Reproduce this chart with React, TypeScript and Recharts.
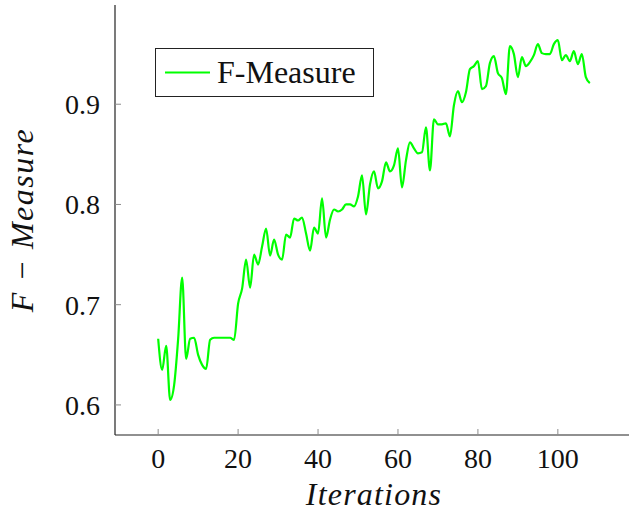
import React from 'react';
import { LineChart, Line, XAxis, YAxis, Legend, Label } from 'recharts';

// F-Measure recorded after each training iteration (iteration = index)
const fMeasure: number[] = [
  0.666, 0.635, 0.659, 0.605, 0.620, 0.666, 0.727, 0.646, 0.666, 0.667,
  0.650, 0.640, 0.636, 0.665, 0.667, 0.667, 0.667, 0.667, 0.667, 0.665,
  0.701, 0.716, 0.745, 0.717, 0.750, 0.740, 0.758, 0.776, 0.749, 0.765,
  0.750, 0.745, 0.770, 0.767, 0.786, 0.784, 0.787, 0.771, 0.754, 0.777,
  0.771, 0.806, 0.767, 0.785, 0.795, 0.793, 0.795, 0.800, 0.800, 0.798,
  0.808, 0.829, 0.790, 0.820, 0.833, 0.816, 0.823, 0.842, 0.833, 0.839,
  0.856, 0.817, 0.844, 0.862, 0.856, 0.851, 0.852, 0.877, 0.834, 0.885,
  0.880, 0.880, 0.881, 0.868, 0.899, 0.913, 0.902, 0.912, 0.935, 0.938,
  0.943, 0.915, 0.918, 0.941, 0.948, 0.931, 0.926, 0.910, 0.958, 0.950,
  0.927, 0.947, 0.938, 0.942, 0.949, 0.960, 0.951, 0.950, 0.950, 0.960,
  0.964, 0.944, 0.949, 0.943, 0.953, 0.940, 0.950, 0.927, 0.921,
];

const xTicks: number[] = [0, 20, 40, 60, 80, 100];
const yTicks: number[] = [0.6, 0.7, 0.8, 0.9];
const xDomain: [number, number] = [-10.8, 118.8];
const yDomain: [number, number] = [0.570, 0.999];

const seriesName = 'F-Measure';
const xTitle = 'Iterations';
const yTitle = 'F − Measure';

const rows = fMeasure.map((v, i) => ({ iteration: i, fm: v }));

const FONT = "'Liberation Serif', 'DejaVu Serif', serif";
const GREEN = '#00ff00';
const FRAME = '#222';
const TICK = '#8c8c8c';
const TICK_LEN = 6;

const txt = (size: number, italic = false, spacing = 0): React.CSSProperties => ({
  fontFamily: FONT,
  fontSize: size,
  fontStyle: italic ? 'italic' : 'normal',
  letterSpacing: spacing,
});

const BottomTick = (p: any) => (
  <g>
    <line x1={p.x} x2={p.x} y1={p.y} y2={p.y - TICK_LEN} stroke={TICK} strokeWidth={1} />
    <text x={p.x} y={p.y + 33} textAnchor="middle" style={txt(28)} fill="#111">
      {p.payload.value}
    </text>
  </g>
);

const TopTick = (p: any) => (
  <line x1={p.x} x2={p.x} y1={p.y} y2={p.y + TICK_LEN} stroke={TICK} strokeWidth={1} />
);

const LeftTick = (p: any) => (
  <g>
    <line x1={p.x} x2={p.x + TICK_LEN} y1={p.y} y2={p.y} stroke={TICK} strokeWidth={1} />
    <text x={p.x - 15} y={p.y + 10} textAnchor="end" style={txt(28)} fill="#111">
      {Number(p.payload.value).toFixed(1)}
    </text>
  </g>
);

const RightTick = (p: any) => (
  <line x1={p.x} x2={p.x - TICK_LEN} y1={p.y} y2={p.y} stroke={TICK} strokeWidth={1} />
);

const YTitle = (props: any) => {
  const vb = props.viewBox || { x: 0, y: 5, height: 430 };
  const cx = vb.x + 33;
  const cy = vb.y + vb.height / 2;
  return (
    <text
      x={cx}
      y={cy}
      transform={`rotate(-90, ${cx}, ${cy})`}
      textAnchor="middle"
      style={txt(32, true, 1.5)}
      fill="#111"
    >
      {yTitle}
    </text>
  );
};

const XTitle = (props: any) => {
  const vb = props.viewBox || { x: 115, y: 435, width: 518, height: 79 };
  const cx = vb.x + vb.width / 2;
  return (
    <text x={cx} y={vb.y + 70} textAnchor="middle" style={txt(32, true, 1.2)} fill="#111">
      {xTitle}
    </text>
  );
};

const LegendBox = () => (
  <svg width={220} height={50} style={{ display: 'block' }}>
    <rect x={0.5} y={0.5} width={218} height={48} fill="#fff" stroke={FRAME} strokeWidth={1} />
    <line x1={10} x2={55} y1={24.5} y2={24.5} stroke={GREEN} strokeWidth={2} />
    <text x={62} y={35} style={txt(32)} fill="#111">
      {seriesName}
    </text>
  </svg>
);

export default function App() {
  return (
    <div
      style={{
        position: 'absolute',
        left: 0,
        top: 0,
        width: 629,
        height: 514,
        overflow: 'hidden',
        background: '#fff',
      }}
    >
      <LineChart
        width={640}
        height={514}
        data={rows}
        margin={{ top: 5, right: 7, bottom: 0, left: 0 }}
      >
        <XAxis
          dataKey="iteration"
          type="number"
          domain={xDomain}
          ticks={xTicks}
          allowDataOverflow
          height={79}
          tickSize={0}
          tickMargin={0}
          tickLine={false}
          tick={<BottomTick />}
          axisLine={{ stroke: FRAME, strokeWidth: 1.2 }}
          interval={0}
        >
          <Label content={<XTitle />} />
        </XAxis>
        <XAxis
          xAxisId="top"
          orientation="top"
          dataKey="iteration"
          type="number"
          domain={xDomain}
          ticks={xTicks}
          allowDataOverflow
          height={0}
          tickSize={0}
          tickMargin={0}
          tickLine={false}
          tick={<TopTick />}
          axisLine={{ stroke: FRAME, strokeWidth: 1.2 }}
          interval={0}
        />
        <YAxis
          type="number"
          domain={yDomain}
          ticks={yTicks}
          allowDataOverflow
          width={115}
          tickSize={0}
          tickMargin={0}
          tickLine={false}
          tick={<LeftTick />}
          axisLine={{ stroke: FRAME, strokeWidth: 1.2 }}
          interval={0}
        >
          <Label content={<YTitle />} />
        </YAxis>
        <YAxis
          yAxisId="right"
          orientation="right"
          type="number"
          domain={yDomain}
          ticks={yTicks}
          allowDataOverflow
          width={0}
          tickSize={0}
          tickMargin={0}
          tickLine={false}
          tick={<RightTick />}
          axisLine={{ stroke: FRAME, strokeWidth: 1.2 }}
          interval={0}
        />
        <Legend
          layout="vertical"
          align="center"
          verticalAlign="middle"
          content={<LegendBox />}
          wrapperStyle={{ left: 155, top: 48, width: 220, height: 50 }}
        />
        <Line
          type="monotone"
          dataKey="fm"
          name={seriesName}
          stroke={GREEN}
          strokeWidth={2.2}
          dot={false}
          activeDot={false}
          isAnimationActive={false}
        />
      </LineChart>
    </div>
  );
}
